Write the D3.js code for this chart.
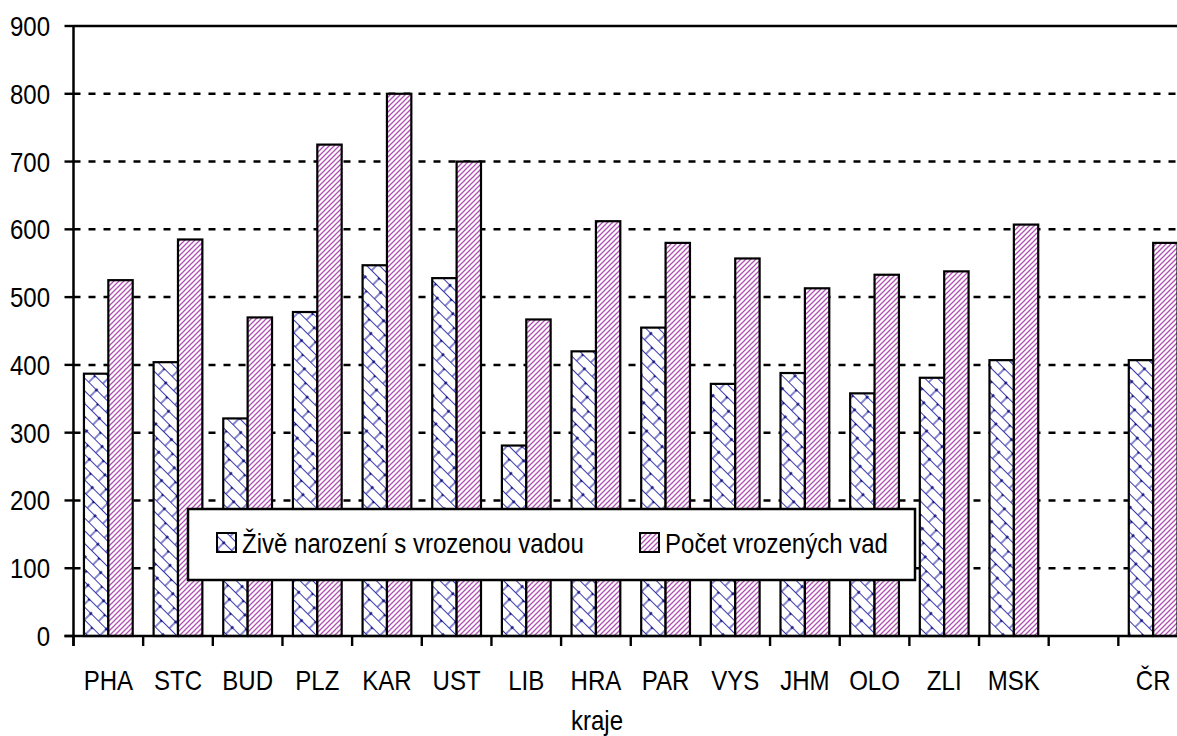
<!DOCTYPE html>
<meta charset="utf-8">
<style>
body { margin: 0; background: #fff; }
svg { display: block; overflow: hidden; }
text { font-family: "Liberation Sans", Arial, sans-serif; font-size: 27px; fill: #000; }
.grid line { stroke: #000; stroke-width: 2.5; stroke-dasharray: 7 8; }
.bar { stroke: #000; stroke-width: 2.2; }
</style>
<svg width="1177" height="736"></svg>
<script src="https://cdn.jsdelivr.net/npm/d3@7"></script>
<script>

// kraje, mezera pred CR je prazdna kategorie
var regions = ["PHA","STC","BUD","PLZ","KAR","UST","LIB","HRA","PAR","VYS","JHM","OLO","ZLI","MSK","","ČR"];
var liveBorn = [387,404,321,478,547,528,281,420,455,372,388,358,381,407,null,407];
var defects  = [525,585,470,725,800,700,467,612,580,557,513,533,538,607,null,580];
var yTicks = [0,100,200,300,400,500,600,700,800,900];
var seriesNames = ["Živě narození s vrozenou vadou", "Počet vrozených vad"];

var svg = d3.select("svg"),
    width = +svg.attr("width"),
    height = +svg.attr("height");

var plotLeft = 73.5, plotRight = 1188, plotTop = 26, plotBottom = 636;
var squeeze = 0.89; // narrow font look

var x = d3.scaleBand()
    .domain(d3.range(regions.length))
    .range([plotLeft, plotRight])
    .paddingInner(0.3)
    .paddingOuter(0.15);

var y = d3.scaleLinear()
    .domain([0, 900])
    .range([plotBottom, plotTop]);

function label(sel, xx, yy, anchor) {
  return sel.append("text")
    .attr("transform", function(d, i) {
      var a = typeof xx === "function" ? xx(d, i) : xx;
      var b = typeof yy === "function" ? yy(d, i) : yy;
      return "translate(" + a + "," + b + ") scale(" + squeeze + ",1)";
    })
    .attr("text-anchor", anchor || "start");
}

// patterns
var defs = svg.append("defs");

var pBlue = defs.append("pattern")
    .attr("id", "blue")
    .attr("patternUnits", "userSpaceOnUse")
    .attr("width", 22)
    .attr("height", 18)
    .attr("patternTransform", "rotate(45)");
pBlue.append("rect").attr("width", 22).attr("height", 18).attr("fill", "#fff");
pBlue.append("path")
    .attr("d", "M0,0.5 H22 M0,9.5 H22 M3,0.5 V9.5 M14,9.5 V18")
    .attr("stroke", "#3a3ab0")
    .attr("stroke-width", 1.2)
    .attr("fill", "none");
pBlue.append("path")
    .attr("d", "M3,0.5 h0.01 M14,9.5 h0.01")
    .attr("stroke", "#14147e")
    .attr("stroke-width", 3)
    .attr("stroke-linecap", "round");

var pPink = defs.append("pattern")
    .attr("id", "pink")
    .attr("patternUnits", "userSpaceOnUse")
    .attr("width", 5)
    .attr("height", 5);
pPink.append("rect").attr("width", 5).attr("height", 5).attr("fill", "#fff");
pPink.append("path")
    .attr("d", "M-1,1 l2,-2 M0,5 l5,-5 M4,6 l2,-2")
    .attr("stroke", "#b050b4")
    .attr("stroke-width", 1.3);

// gridlines
svg.append("g")
    .attr("class", "grid")
    .selectAll("line")
    .data(yTicks.filter(function(d) { return d > 0 && d < 900; }))
    .enter().append("line")
    .attr("x1", plotLeft)
    .attr("x2", plotRight)
    .attr("y1", function(d) { return y(d); })
    .attr("y2", function(d) { return y(d); });

// top border
svg.append("line")
    .attr("x1", plotLeft).attr("x2", plotRight)
    .attr("y1", y(900)).attr("y2", y(900))
    .attr("stroke", "#000").attr("stroke-width", 2.4);

// bars
var half = x.bandwidth() / 2;
var groups = svg.append("g").selectAll("g")
    .data(regions.map(function(r, i) { return { i: i, a: liveBorn[i], b: defects[i] }; })
          .filter(function(d) { return d.a != null; }))
    .enter().append("g");

groups.append("rect")
    .attr("class", "bar")
    .attr("x", function(d) { return x(d.i); })
    .attr("y", function(d) { return y(d.a); })
    .attr("width", half)
    .attr("height", function(d) { return y(0) - y(d.a); })
    .attr("fill", "url(#blue)");

groups.append("rect")
    .attr("class", "bar")
    .attr("x", function(d) { return x(d.i) + half; })
    .attr("y", function(d) { return y(d.b); })
    .attr("width", half)
    .attr("height", function(d) { return y(0) - y(d.b); })
    .attr("fill", "url(#pink)");

// y axis
var yAxis = svg.append("g");
yAxis.selectAll("line")
    .data(yTicks)
    .enter().append("line")
    .attr("x1", plotLeft - 9).attr("x2", plotLeft)
    .attr("y1", function(d) { return y(d); })
    .attr("y2", function(d) { return y(d); })
    .attr("stroke", "#000").attr("stroke-width", 2.4);
label(yAxis.selectAll(".yl").data(yTicks).enter(), 50, function(d) { return y(d) + 10; }, "end")
    .text(function(d) { return d; });
yAxis.append("line")
    .attr("x1", plotLeft).attr("x2", plotLeft)
    .attr("y1", y(900) - 1).attr("y2", plotBottom + 10)
    .attr("stroke", "#000").attr("stroke-width", 2.5);

// x axis
svg.append("line")
    .attr("x1", plotLeft - 9).attr("x2", plotRight)
    .attr("y1", plotBottom).attr("y2", plotBottom)
    .attr("stroke", "#000").attr("stroke-width", 2.5);

svg.append("g").selectAll("line")
    .data(d3.range(regions.length + 1))
    .enter().append("line")
    .attr("x1", function(i) { return plotLeft + i * x.step(); })
    .attr("x2", function(i) { return plotLeft + i * x.step(); })
    .attr("y1", plotBottom)
    .attr("y2", plotBottom + 10)
    .attr("stroke", "#000").attr("stroke-width", 2.4);

label(svg.append("g").selectAll("text").data(regions).enter(),
      function(d, i) { return x(i) + x.bandwidth() / 2; }, 690, "middle")
    .text(function(d) { return d; });

label(svg, 597, 730, "middle").text("kraje");

// legend
var legend = svg.append("g");
legend.append("rect")
    .attr("x", 188).attr("y", 509)
    .attr("width", 727).attr("height", 71)
    .attr("fill", "#fff")
    .attr("stroke", "#000").attr("stroke-width", 2.5);

var legendX = [217, 640];
var legendFill = ["url(#blue)", "url(#pink)"];

legend.selectAll(".sw")
    .data(seriesNames)
    .enter().append("rect")
    .attr("x", function(d, i) { return legendX[i]; })
    .attr("y", 533)
    .attr("width", 19).attr("height", 19)
    .attr("fill", function(d, i) { return legendFill[i]; })
    .attr("stroke", "#000").attr("stroke-width", 2);

label(legend.selectAll(".lt").data(seriesNames).enter(),
      function(d, i) { return legendX[i] + 25; }, 553, "start")
    .text(function(d) { return d; });

</script>
